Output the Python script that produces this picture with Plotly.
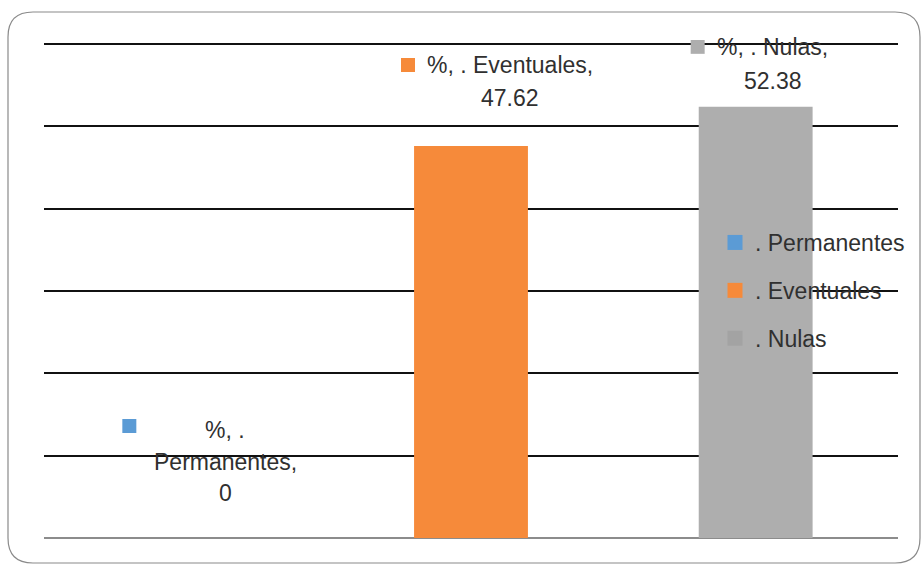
import plotly.graph_objects as go

# Series data
categories = ["Permanentes", "Eventuales", "Nulas"]
values = [0, 47.62, 52.38]
colors = ["#5B9BD5", "#F68A3A", "#AEAEAE"]
key_colors = ["#5B9BD5", "#F68A3A", "#A3A3A3"]
y_ticks = [0, 10, 20, 30, 40, 50, 60]

FONT = "Liberation Sans"
TEXT_COLOR = "#303030"
FS = 23

# label layout per category: text lines, x shift of the block,
# upward shift of each line, and the key square position (dx, up)
label_lines = {
    "Permanentes": [["%, .", "Permanentes,"], 39, [108, 76, 45], (-57, 112)],
    "Eventuales": [["%, . Eventuales,"], 39, [81, 48], (-63, 81)],
    "Nulas": [["%, . Nulas,"], 17, [60, 26], (-58, 60)],
}

fig = go.Figure()

for i, (cat, val, col, kcol) in enumerate(zip(categories, values, colors, key_colors)):
    fig.add_trace(go.Bar(
        x=[cat], y=[val], name=". " + cat,
        marker=dict(color=col, line=dict(width=0)),
        width=0.4, showlegend=False,
    ))
    # legend entry with a larger square key
    fig.add_trace(go.Scatter(
        x=[None], y=[None], mode="markers", name=". " + cat,
        marker=dict(symbol="square", size=15, color=kcol),
        legendgroup=cat, showlegend=True,
    ))

# data labels drawn from the values
for i, (cat, val, col) in enumerate(zip(categories, values, colors)):
    lines, xs, ups, (sq_dx, sq_up) = label_lines[cat]
    texts = lines + [f"{val:g}"]
    for t, up in zip(texts, ups):
        fig.add_annotation(
            x=cat, y=val, xref="x", yref="y", text=t, showarrow=False,
            xanchor="center", yanchor="middle", xshift=xs, yshift=up,
            font=dict(family=FONT, size=FS, color=TEXT_COLOR),
        )
    fig.add_shape(
        type="rect", xref="x", yref="y",
        xsizemode="pixel", ysizemode="pixel",
        xanchor=i, yanchor=val,
        x0=sq_dx - 7, x1=sq_dx + 7, y0=sq_up - 7, y1=sq_up + 7,
        fillcolor=col, line=dict(width=0),
    )

# plot area in pixels; y range runs a little past 60 so the top grid line shows
L, R, T, B = 44, 898, 40, 538
Y_MAX = 60.5
W, H = R - L, B - T


def px(x):
    return (x - L) / W


def py(y):
    return (B - y) / H


# rounded chart frame, converted from pixel to paper units
x0, y0, x1, y1, r = 8, 12, 920, 563, 25
path = (
    f"M {px(x0 + r)},{py(y0)} L {px(x1 - r)},{py(y0)} "
    f"Q {px(x1)},{py(y0)} {px(x1)},{py(y0 + r)} "
    f"L {px(x1)},{py(y1 - r)} Q {px(x1)},{py(y1)} {px(x1 - r)},{py(y1)} "
    f"L {px(x0 + r)},{py(y1)} Q {px(x0)},{py(y1)} {px(x0)},{py(y1 - r)} "
    f"L {px(x0)},{py(y0 + r)} Q {px(x0)},{py(y0)} {px(x0 + r)},{py(y0)} Z"
)
fig.add_shape(type="path", xref="paper", yref="paper", path=path,
              line=dict(color="#8A8A8A", width=1.2), layer="below")

fig.update_layout(
    width=922, height=565,
    margin=dict(l=L, r=922 - R, t=T, b=565 - B),
    paper_bgcolor="white", plot_bgcolor="white",
    font=dict(family=FONT, size=FS, color=TEXT_COLOR),
    showlegend=True,
    legend=dict(
        x=(715 - L) / W, y=py(221), xanchor="left", yanchor="top",
        bgcolor="rgba(0,0,0,0)", traceorder="grouped", tracegroupgap=15,
        font=dict(family=FONT, size=FS, color=TEXT_COLOR),
        itemwidth=30,
    ),
    xaxis=dict(
        categoryorder="array", categoryarray=categories,
        showticklabels=False, ticks="", showgrid=False,
        showline=False, zeroline=False,
    ),
    yaxis=dict(
        range=[0, Y_MAX], tickvals=y_ticks, showticklabels=False, ticks="",
        showgrid=True, gridcolor="#111111", gridwidth=2,
        zeroline=True, zerolinecolor="#8C8C8C", zerolinewidth=2,
        showline=False,
    ),
)

fig.write_html("out.html")
